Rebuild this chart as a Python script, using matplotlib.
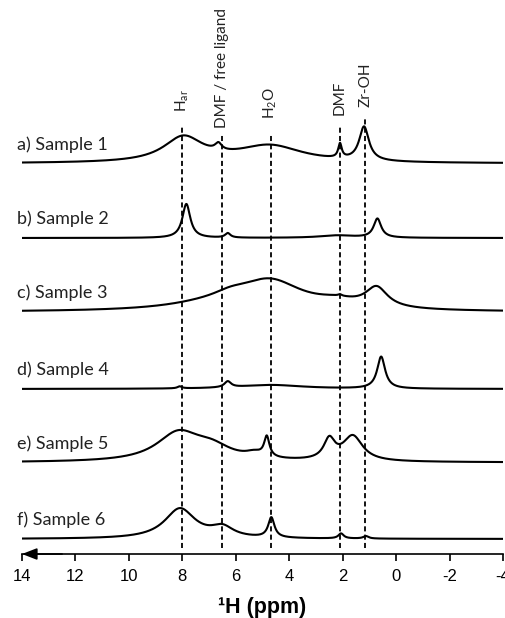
import numpy as np
import matplotlib
matplotlib.use('Agg')
import matplotlib.pyplot as plt

plt.rcParams['axes.unicode_minus'] = False
plt.rcParams['mathtext.default'] = 'regular'

# Sample labels, top to bottom
samples = ['a) Sample 1', 'b) Sample 2', 'c) Sample 3',
           'd) Sample 4', 'e) Sample 5', 'f) Sample 6']

# Peaks: shift (ppm), height (a.u.), half width (ppm)
peak_pos = [
    [7.96, 6.65, 4.72, 2.1, 1.2],
    [7.85, 6.3, 2.2, 0.7],
    [7.0, 6.2, 4.72, 2.2, 2.1, 0.73],
    [8.1, 6.3, 4.7, 0.56],
    [8.15, 6.9, 5.3, 4.84, 2.5, 1.62],
    [8.09, 6.5, 4.67, 2.06, 1.13],
]
peak_height = [
    [25, 7, 17, 14, 34],
    [34, 4.5, 2.5, 19],
    [5, 6, 29, 6, 1.5, 20],
    [2, 6, 4, 32],
    [28, 12, 5, 20, 20, 25],
    [30, 10, 20, 5, 2.5],
]
peak_width = [
    [0.9, 0.15, 1.5, 0.08, 0.22],
    [0.18, 0.12, 0.8, 0.17],
    [2.0, 0.8, 1.5, 1.0, 0.08, 0.5],
    [0.1, 0.15, 1.5, 0.18],
    [1.0, 0.9, 0.4, 0.12, 0.25, 0.45],
    [0.7, 0.5, 0.14, 0.12, 0.12],
]

# Assignment lines
assign_ppm = [8.0, 6.5, 4.7, 2.1, 1.15]
assign_labels = ['H$_{ar}$', 'DMF / free ligand', 'H$_2$O', 'DMF', 'Zr-OH']


def spectrum(x, pos, h, w):
    y = np.zeros_like(x)
    for p, a, g in zip(pos, h, w):
        y += a / (1 + ((x - p) / g) ** 2)
    return y


fig = plt.figure(figsize=(5.06, 6.18), dpi=100)
ax = fig.add_axes([22 / 506, 64 / 618, 481 / 506, 554 / 618])

x = np.linspace(14, -4, 3000)
baselines = [390.5, 316, 242, 165, 91.5, 15]  # vertical stacking
for i, name in enumerate(samples):
    y = spectrum(x, peak_pos[i], peak_height[i], peak_width[i])
    ax.plot(x, y + baselines[i], color='black', lw=1.5, zorder=3)
    ax.text(14.2, baselines[i] + 19, name, ha='left', va='center',
            fontsize=13, family='Lato', color='#222222')

# dashed guide lines and rotated labels
line_tops = [429, 419, 419, 428, 437]
label_bottoms = [442, 426, 435, 439, 447]
for p, lab, top, lb in zip(assign_ppm, assign_labels, line_tops, label_bottoms):
    ax.plot([p, p], [6, top], color='black', lw=1.3,
            linestyle=(0, (2.8, 1.8)), zorder=2)
    ax.text(p, lb, lab, rotation=90, ha='center', va='bottom',
            fontsize=11, family='Lato', color='#222222')

ax.set_xlim(14, -4)
ax.set_ylim(0, 554)
for s in ['top', 'left', 'right']:
    ax.spines[s].set_visible(False)
ax.spines['bottom'].set_linewidth(1.2)
ax.set_yticks([])
ax.set_xticks(np.arange(14, -5, -2))
ax.tick_params(axis='x', direction='out', length=5, width=1.2, pad=6,
               labelsize=12)
for t in ax.get_xticklabels():
    t.set_family('Liberation Sans')
ax.annotate('', xy=(14, 0), xytext=(12.5, 0),
            arrowprops=dict(arrowstyle='-|>,head_length=0.9,head_width=0.35',
                            color='black', lw=1.2, shrinkA=0, shrinkB=0))
ax.set_xlabel('¹H (ppm)', fontsize=15.5, fontweight='bold',
              family='Liberation Sans', labelpad=9)

fig.savefig('out.png', dpi=100)
